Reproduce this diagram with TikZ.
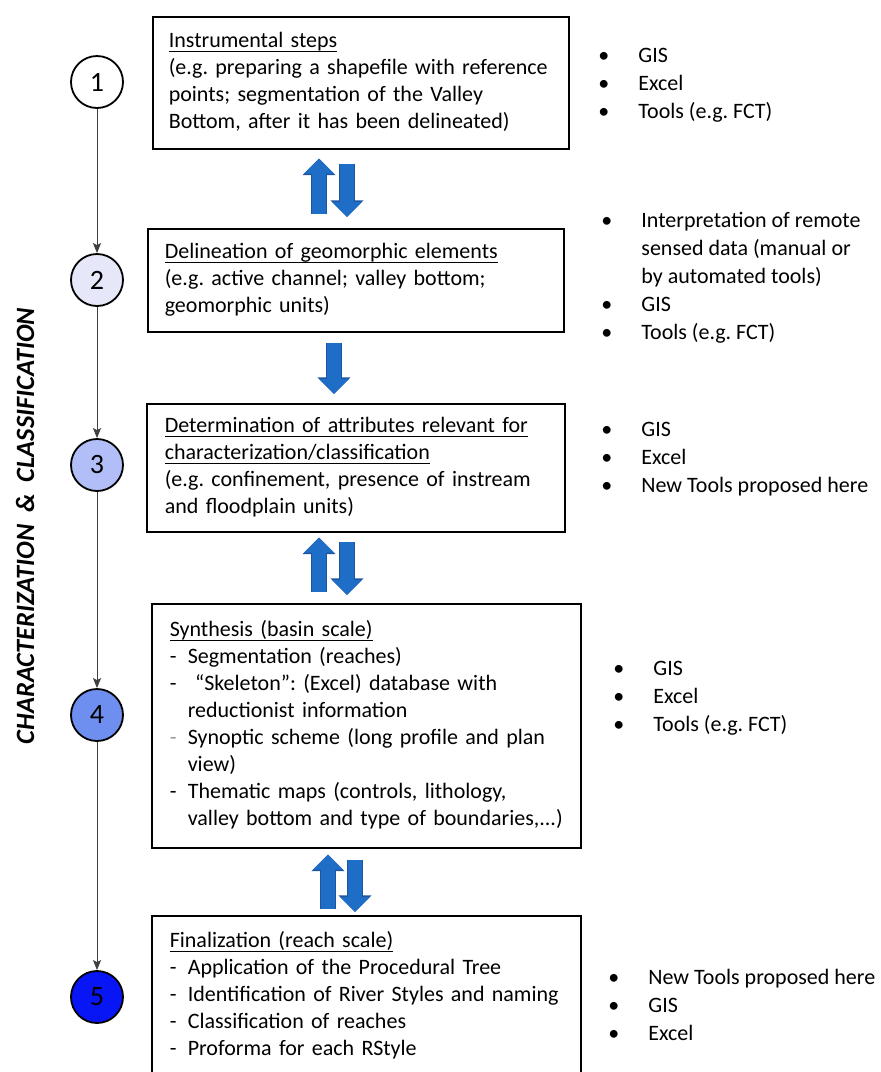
\documentclass[tikz,border=0pt]{standalone}
\usepackage{fontspec}
\setmainfont{Carlito}
\usetikzlibrary{arrows.meta}
\frenchspacing

\definecolor{arrowblue}{RGB}{30,110,200}
\definecolor{arrowedge}{RGB}{30,85,160}
\definecolor{stagetwo}{RGB}{230,232,250}
\definecolor{stagethree}{RGB}{178,190,248}
\definecolor{stagefour}{RGB}{110,142,240}
\definecolor{stagefive}{RGB}{8,22,245}

\newsavebox{\ulnbox}
\newcommand{\uln}[1]{\leavevmode\sbox{\ulnbox}{#1}\rlap{\rule[-2.2pt]{\wd\ulnbox}{0.5pt}}\usebox{\ulnbox}}
\newcommand{\bul}{\makebox[20pt][l]{\textbullet}}
\newcommand{\dsh}{\makebox[9pt][l]{-}}
\newcommand{\dshc}{\hspace*{9pt}}

\begin{document}
\begin{tikzpicture}[x=0.5pt,y=-0.5pt]
\tikzstyle{every node}=[inner sep=0pt]
\tikzstyle{stepbox}=[draw, line width=0.8pt, rectangle, align=left, anchor=north west, font=\fontsize{11}{13.5}\selectfont]
\tikzstyle{stage}=[draw, circle, line width=0.9pt, minimum size=26pt, font=\fontsize{14}{16}\selectfont]
\tikzstyle{tools}=[align=left, anchor=west, font=\fontsize{11}{14}\selectfont]
\tikzstyle{blockarr}=[line width=7pt, draw=arrowblue, -{Triangle[length=7.5pt,width=14.5pt]}, shorten <=5pt, shorten >=3pt,
  preaction={draw=arrowedge, line width=7.8pt, -{Triangle[length=8.3pt,width=16pt]}}]
\tikzstyle{flow}=[draw=black!75, line width=0.5pt, -{Stealth[length=5pt,width=4pt,inset=1pt]}]
\useasboundingbox (0,0) rectangle (880,1072);

\node (lbl) [rotate=90, font=\fontsize{13.2}{15}\selectfont\bfseries\itshape] at (25,526) {CHARACTERIZATION\ \ \&\ \ CLASSIFICATION};

\node (c1) [stage, fill=white] at (97,82) {1};
\node (c2) [stage, fill=stagetwo] at (97,280) {2};
\node (c3) [stage, fill=stagethree] at (97,465) {3};
\node (c4) [stage, fill=stagefour] at (97,715) {4};
\node (c5) [stage, fill=stagefive] at (97,997) {5};
\draw[flow] (c1) -- (c2);
\draw[flow] (c2) -- (c3);
\draw[flow] (c3) -- (c4);
\draw[flow] (c4) -- (c5);

\node (b1) [stepbox, inner xsep=8pt, text width=192pt, minimum height=66pt] at (152,16) {\begin{tabular}{@{}l@{}}
\uln{Instrumental steps}\\
(e.g. preparing a shapefile with reference\\
points; segmentation of the Valley\\
Bottom, after it has been delineated)\end{tabular}};
\node (b2) [stepbox, inner xsep=8.5pt, text width=191pt, minimum height=51.5pt] at (147,228) {\begin{tabular}{@{}l@{}}
\uln{Delineation of geomorphic elements}\\
(e.g. active channel; valley bottom;\\
geomorphic units)\end{tabular}};
\node (b3) [stepbox, inner xsep=9pt, text width=191pt, minimum height=64pt] at (146,403) {\begin{tabular}{@{}l@{}}
\uln{Determination of attributes relevant for}\\
\uln{characterization/classification}\\
(e.g. confinement, presence of instream\\
and floodplain units)\end{tabular}};
\node (b4) [stepbox, inner xsep=9pt, text width=196.5pt, minimum height=122pt] at (151,603) {\begin{tabular}{@{}l@{}}
\uln{Synthesis (basin scale)}\\
\dsh Segmentation (reaches)\\
\dsh\ “Skeleton”: (Excel) database with\\
\dshc reductionist information\\
\textcolor{black!40}{\dsh}Synoptic scheme (long profile and plan\\
\dshc view)\\
\dsh Thematic maps (controls, lithology,\\
\dshc valley bottom and type of boundaries,...)\end{tabular}};
\node (b5) [stepbox, inner xsep=9pt, text width=196.5pt, minimum height=80pt] at (151,915) {\begin{tabular}{@{}l@{}}
\uln{Finalization (reach scale)}\\
\dsh Application of the Procedural Tree\\
\dsh Identification of River Styles and naming\\
\dsh Classification of reaches\\
\dsh Proforma for each RStyle\end{tabular}};

\draw[blockarr, shorten <=7pt, shorten >=4.5pt] (319,0 |- b2.north) -- (319,0 |- b1.south);
\draw[blockarr, shorten <=7pt, shorten >=5.5pt] (347,0 |- b1.south) -- (347,0 |- b2.north);
\draw[blockarr, shorten <=5pt, shorten >=4.5pt] (334,0 |- b2.south) -- (334,0 |- b3.north);
\draw[blockarr, shorten <=5.5pt, shorten >=2.5pt] (319,0 |- b4.north) -- (319,0 |- b3.south);
\draw[blockarr, shorten <=4.5pt, shorten >=4pt] (347,0 |- b3.south) -- (347,0 |- b4.north);
\draw[blockarr, shorten <=3pt, shorten >=3pt] (328,0 |- b5.north) -- (328,0 |- b4.south);
\draw[blockarr, shorten <=5.5pt, shorten >=1.5pt] (355,0 |- b4.south) -- (355,0 |- b5.north);

\node (t1) [tools] at (598,85) {\bul GIS\\ \bul Excel\\ \bul Tools (e.g. FCT)};
\node (t2) [tools] at (601,278) {\bul Interpretation of remote\\ \hspace*{20pt}sensed data (manual or\\ \hspace*{20pt}by automated tools)\\ \bul GIS\\ \bul Tools (e.g. FCT)};
\node (t3) [tools] at (601,459) {\bul GIS\\ \bul Excel\\ \bul New Tools proposed here};
\node (t4) [tools] at (613,698) {\bul GIS\\ \bul Excel\\ \bul Tools (e.g. FCT)};
\node (t5) [tools] at (608,1005) {\bul New Tools proposed here\\ \bul GIS\\ \bul Excel};
\end{tikzpicture}
\end{document}
